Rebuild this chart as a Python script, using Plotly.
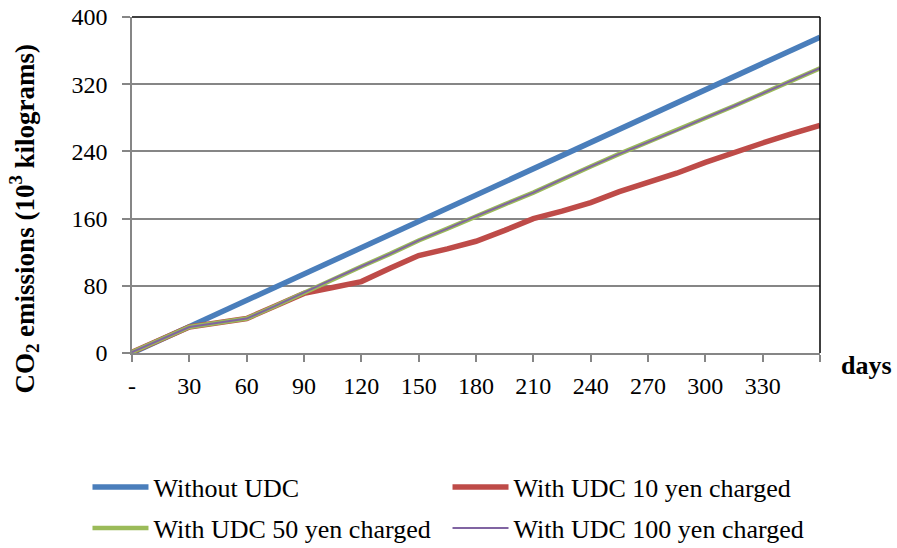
import plotly.graph_objects as go

days = [0, 15, 30, 45, 60, 75, 90, 105, 120, 135, 150, 165, 180, 195, 210,
        225, 240, 255, 270, 285, 300, 315, 330, 345, 360]
without_udc = [0, 15.7, 31.3, 47, 62.7, 78.3, 94, 109.7, 125.3, 141, 156.7, 172.3, 188,
               203.7, 219.3, 235, 250.7, 266.3, 282, 297.7, 313.3, 329, 344.7, 360.3, 376]
udc_10 = [1, 16, 31, 36, 41, 56, 71, 78, 85, 101, 116, 124, 133, 146, 160,
          169, 179, 192, 203, 214, 227, 239, 250, 261, 271]
udc_50 = [1, 16, 31, 36, 41, 56, 72, 88, 103, 118, 134, 148, 163, 177, 191,
          207, 222, 237, 251, 265, 280, 294, 309, 324, 339]
udc_100 = [1, 16, 31, 36, 41, 56, 72, 88, 103, 118, 134, 148, 163, 177, 191,
           207, 222, 237, 251, 265, 280, 294, 309, 324, 339]

x_tickvals = [0, 30, 60, 90, 120, 150, 180, 210, 240, 270, 300, 330, 360]
x_ticktext = ["-", "30", "60", "90", "120", "150", "180", "210", "240", "270", "300", "330", ""]
y_tickvals = [0, 80, 160, 240, 320, 400]

FONT = "Liberation Serif, Times New Roman, serif"

fig = go.Figure()
fig.add_trace(go.Scatter(x=days, y=without_udc, mode="lines", name="Without UDC",
                         line=dict(color="#4A7EBB", width=5.5), legend="legend"))
fig.add_trace(go.Scatter(x=days, y=udc_10, mode="lines", name="With UDC 10 yen charged",
                         line=dict(color="#BE4B48", width=5.5), legend="legend2"))
fig.add_trace(go.Scatter(x=days, y=udc_50, mode="lines", name="With UDC 50 yen charged",
                         line=dict(color="#9BBB59", width=4.5), legend="legend3"))
fig.add_trace(go.Scatter(x=days, y=udc_100, mode="lines", name="With UDC 100 yen charged",
                         line=dict(color="#8064A2", width=2), legend="legend4"))

legend_common = dict(orientation="h", xanchor="left", yanchor="middle",
                     font=dict(family=FONT, size=26, color="#000"),
                     itemwidth=56,
                     bgcolor="rgba(0,0,0,0)", itemclick=False)

row1_y = -0.399
row2_y = -0.521
col1_x = -0.0647
col2_x = 0.4586

fig.update_layout(
    width=897, height=548,
    margin=dict(l=132, r=77, t=17, b=195, autoexpand=False),
    paper_bgcolor="white", plot_bgcolor="white",
    font=dict(family=FONT, size=24, color="#000"),
    showlegend=True,
    legend=dict(x=col1_x, y=row1_y, **legend_common),
    legend2=dict(x=col2_x, y=row1_y, **legend_common),
    legend3=dict(x=col1_x, y=row2_y, **legend_common),
    legend4=dict(x=col2_x, y=row2_y, **legend_common),
    xaxis=dict(range=[0, 360], tickmode="array", tickvals=x_tickvals, ticktext=x_ticktext,
               showgrid=False, zeroline=False, showline=True, linecolor="#868686", linewidth=1.5,
               ticks="outside", ticklen=7, tickcolor="#868686", tickwidth=1.5,
               ticklabelstandoff=3,
               tickfont=dict(family=FONT, size=24, color="#000")),
    yaxis=dict(range=[0, 400], tickmode="array", tickvals=y_tickvals,
               showgrid=True, gridcolor="#868686", gridwidth=1.5, zeroline=False,
               showline=True, linecolor="#868686", linewidth=1.5,
               ticks="outside", ticklen=8, tickcolor="#868686", tickwidth=1.5,
               ticklabelstandoff=10,
               tickfont=dict(family=FONT, size=24, color="#000")),
    shapes=[
        dict(type="line", xref="paper", yref="paper", x0=0, x1=1, y0=1, y1=1,
             line=dict(color="#000", width=1.5)),
        dict(type="line", xref="paper", yref="paper", x0=1, x1=1, y0=0, y1=1,
             line=dict(color="#000", width=1.5)),
    ],
    annotations=[
        dict(text="<b>CO<sub>2</sub> emissions (10<sup>3</sup> kilograms)</b>",
             xref="paper", yref="paper", x=-0.157, y=0.40, textangle=-90,
             showarrow=False, xanchor="center", yanchor="middle",
             font=dict(family=FONT, size=27, color="#000")),
        dict(text="<b>days</b>", xref="paper", yref="paper", x=1.028, y=-0.036,
             showarrow=False, xanchor="left", yanchor="middle",
             font=dict(family=FONT, size=26, color="#000")),
    ],
)

fig.write_html("out.html")
